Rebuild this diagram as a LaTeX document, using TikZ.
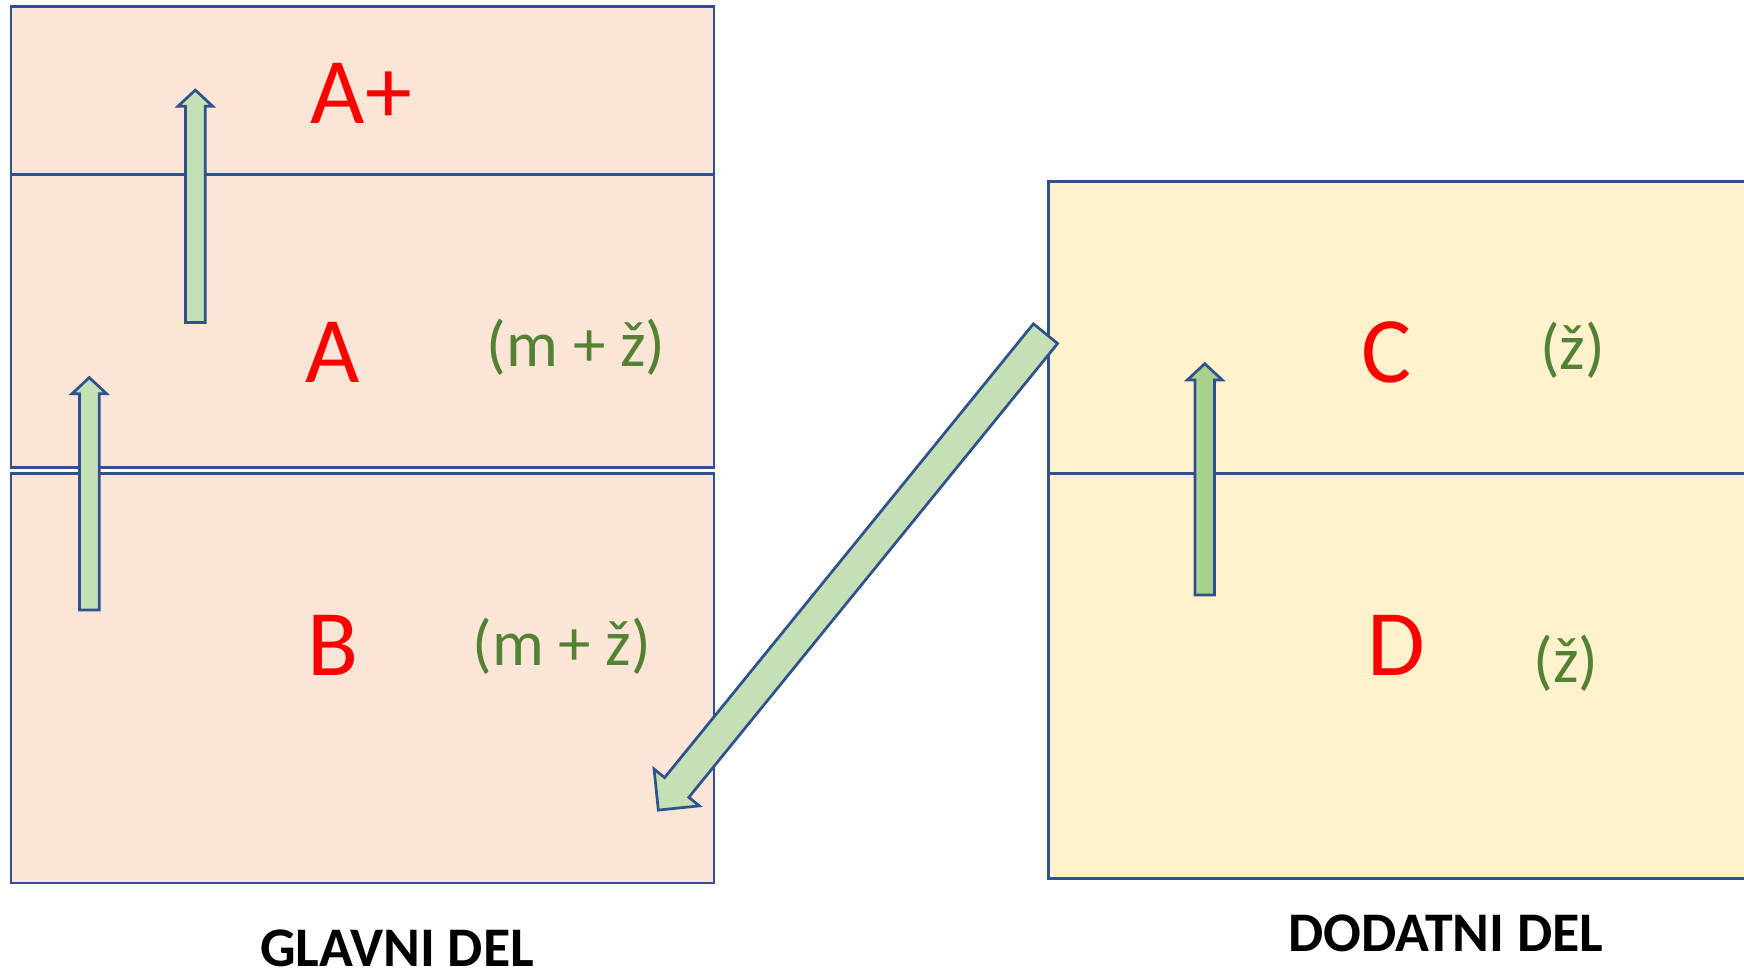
\documentclass[tikz,border=0pt]{standalone}
\usepackage{fontspec}
\setmainfont{Carlito}
\usepackage{tikz}
\usetikzlibrary{shapes.arrows}
\definecolor{rob}{HTML}{2F528F}
\definecolor{glav}{HTML}{FBE5D6}
\definecolor{dod}{HTML}{FFF2CC}
\definecolor{pus}{HTML}{C5E0B4}
\definecolor{pusdk}{HTML}{A9D18E}
\definecolor{rdeca}{HTML}{FF0000}
\definecolor{zelena}{HTML}{548235}

\begin{document}
\begin{tikzpicture}[x=0.1mm,y=-0.1mm,
  box/.style={draw=rob,line width=0.7pt},
  gl/.style={box,fill=glav},
  dd/.style={box,fill=dod},
  big/.style={text=rdeca,font=\fontsize{24}{28}\selectfont,inner sep=0pt},
  sm/.style={text=zelena,font=\fontsize{16.6}{19}\selectfont,inner sep=0pt},
  ttl/.style={font=\fontsize{14.3}{17}\selectfont\bfseries,inner sep=0pt},
  blk/.style={single arrow,draw=rob,line width=0.7pt,fill=pus,
              inner xsep=0pt,outer sep=0pt,minimum width=0pt,anchor=tail},
  up/.style={blk,inner ysep=0.76mm,single arrow head extend=0.68mm,
             single arrow tip angle=94,minimum height=20.9mm,rotate=90}]
\useasboundingbox (0,0) rectangle (1568,877);
\clip (0,0) rectangle (1568,877);

% glavni del
\draw[gl] (10,6) rectangle (642,157);
\draw[gl] (10,157) rectangle (642,420);
\draw[gl] (10,426) rectangle (642,794);
% dodatni del (desni rob je odrezan)
\draw[dd] (943,163) rectangle (1600,426);
\draw[dd] (943,426) rectangle (1600,790);

\node[big] (aplus) at (325,84) {A+};
\node[big] (a) at (299,317) {A};
\node[sm]  (amz) at (518,312) {(m + ž)};
\node[big] (b) at (299,580) {B};
\node[sm]  (bmz) at (505,581) {(m + ž)};
\node[big] (c) at (1247,317) {C};
\node[sm]  (cz) at (1414,315) {(ž)};
\node[big] (d) at (1255,580) {D};
\node[sm]  (dz) at (1408,596) {(ž)};

\node[ttl] (glavni) at (357,853) {GLAVNI DEL};
\node[ttl] (dodatni) at (1300,839) {DODATNI DEL};

% puscice
\node[up] (up1) at (175.6,290) {};
\node[up] (up2) at (80.3,548.5) {};
\node[up,fill=pusdk,minimum height=20.8mm] (up3) at (1083.2,535) {};
\node[blk,inner ysep=1.28mm,single arrow head extend=1.22mm,
      single arrow tip angle=90,minimum height=55.2mm,rotate=230.9]
      (diag) at (940,300) {};
\end{tikzpicture}
\end{document}
